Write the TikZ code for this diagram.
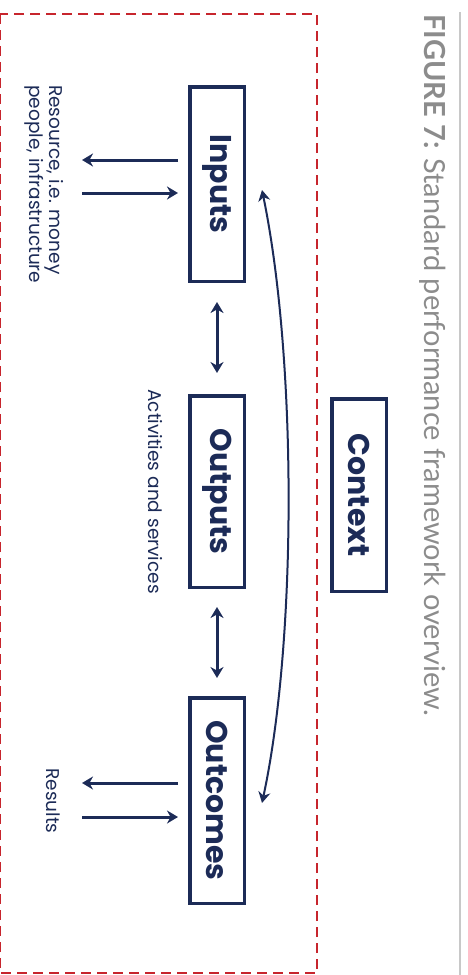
\documentclass[tikz,border=0pt]{standalone}
\usepackage{fontspec}
\setmainfont{Poppins}
\newfontfamily\capfont{Lato}
\usetikzlibrary{arrows.meta,calc}
\definecolor{navy}{RGB}{28,43,87}
\definecolor{frame}{RGB}{199,37,45}
\definecolor{capgray}{RGB}{140,140,140}
\definecolor{rulegray}{RGB}{200,200,200}
\begin{document}
\begin{tikzpicture}[x=1pt,y=1pt,
  stage/.style={draw=navy,line width=3.5pt,text=navy,inner sep=0pt,
    minimum width=54.5pt,font=\fontsize{30}{33}\selectfont\bfseries},
  flow/.style={draw=navy,line width=3pt,-{Stealth[length=11pt,width=13pt]}},
  twoway/.style={draw=navy,line width=3pt,{Stealth[length=11pt,width=13pt]}-{Stealth[length=11pt,width=13pt]}},
  note/.style={text=navy,inner sep=0pt,rotate=-90,font=\fontsize{18.5}{20}\selectfont}]
\useasboundingbox (0,0) rectangle (467,-975);
% dashed boundary of the framework
\draw[frame,line width=2pt,dash pattern=on 10pt off 6pt] (0,-14) rectangle (317,-973);
% rule beside the caption
\draw[rulegray,line width=1.5pt] (460,-12) -- (460,-975);
% stages
\node[stage,minimum height=194.5pt] (in)  at (217,-184)   {\rotatebox{-90}{Inputs}};
\node[stage,minimum height=191.5pt] (out) at (217,-491.5) {\rotatebox{-90}{Outputs}};
\node[stage,minimum height=205.5pt] (oc)  at (217,-800.5) {\rotatebox{-90}{Outcomes}};
\node[stage,minimum height=192.5pt] (ctx) at (359,-495)   {\rotatebox{-90}{Context}};
% arrows between the stages
\draw[twoway,shorten <=19pt,shorten >=21pt] (in.south) -- (out.north);
\draw[twoway,shorten <=18pt,shorten >=18pt] (out.south) -- (oc.north);
% resource arrows
\coordinate (inA) at ($(in.west)+(0,24)$);
\coordinate (inB) at ($(in.west)+(0,-9)$);
\coordinate (inAx) at (82,-160);
\coordinate (inBx) at (82,-193);
\draw[flow,shorten <=10pt] (inA) -- (inAx);
\draw[flow,shorten >=10pt] (inBx) -- (inB);
% result arrows
\coordinate (ocA) at ($(oc.west)+(0,17.5)$);
\coordinate (ocB) at ($(oc.west)+(0,-16.5)$);
\coordinate (ocAx) at (82,-783);
\coordinate (ocBx) at (82,-817);
\draw[flow,shorten <=10pt] (ocA) -- (ocAx);
\draw[flow,shorten >=10pt] (ocBx) -- (ocB);
% feedback loop from inputs to outcomes
\coordinate (loopA) at ($(in.east)+(16,-6)$);
\coordinate (loopB) at ($(oc.east)+(16,-2.5)$);
\draw[draw=navy,line width=2pt,{Stealth[length=11pt,width=12pt]}-{Stealth[length=11pt,width=12pt]}]
  (loopA) .. controls (297,-360) and (297,-640) .. (loopB);
% labels
\node[note,anchor=north west,align=left] (res) at (64,-85) {Resource, i.e. money\\people, infrastructure};
\node[note] (act) at (155,-491.5) {Activities and services};
\node[note] (resl) at (53,-801) {Results};
% caption
\node[rotate=-90,anchor=north west,inner sep=0pt,text=capgray,
  font=\capfont\fontsize{29}{32}\selectfont] (cap) at (446,-14)
  {\textbf{FIGURE 7:} Standard performance framework overview.};
\end{tikzpicture}
\end{document}
